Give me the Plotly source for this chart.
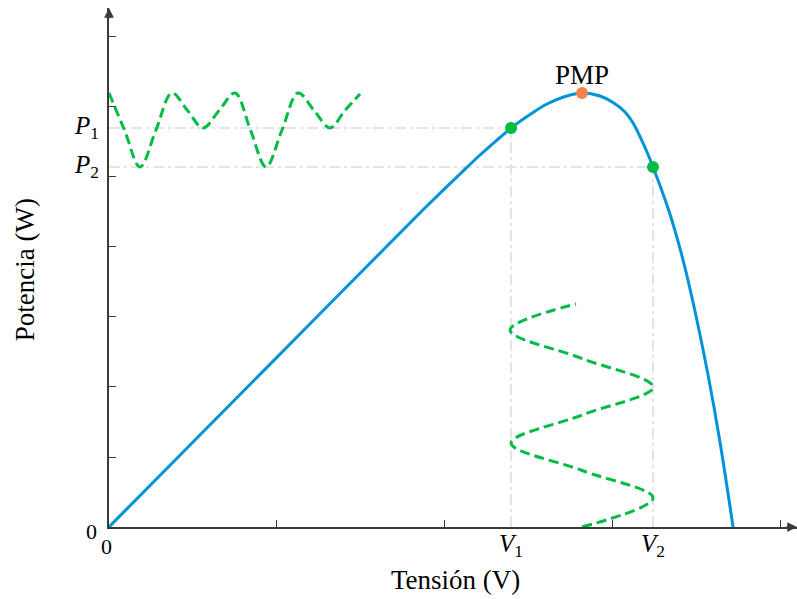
import plotly.graph_objects as go

# P-V characteristic of the panel (voltage, power)
curve_v = [0.000, 0.542, 1.138, 1.734, 1.931, 2.092, 2.211, 2.330, 2.396, 2.509, 2.610,
           2.718, 2.819, 2.926, 3.004, 3.075, 3.123, 3.206, 3.242, 3.337, 3.421, 3.492,
           3.570, 3.641, 3.719]
curve_p = [0.000, 1.314, 2.757, 4.200, 4.671, 5.043, 5.314, 5.564, 5.700, 5.893, 6.043,
           6.150, 6.200, 6.157, 6.064, 5.929, 5.771, 5.357, 5.143, 4.514, 3.814, 3.086,
           2.171, 1.214, 0.000]

# operating points
V1, P1 = 2.396, 5.700
V2, P2 = 3.242, 5.143
V_MPP, P_MPP = 2.819, 6.200

# voltage perturbation around the MPP (time runs upward)
osc_v = [2.819, 3.242, 2.819, 2.396, 2.819, 3.242, 2.819, 2.390, 2.783]
osc_t = [0.000, 0.414, 0.807, 1.200, 1.600, 2.000, 2.407, 2.814, 3.186]

# resulting power oscillation (time runs to the right)
pw_t = [0.000, 0.092, 0.185, 0.280, 0.375, 0.468, 0.560, 0.656, 0.751,
        0.843, 0.936, 1.031, 1.126, 1.222, 1.317, 1.406, 1.496]
pw_p = [6.200, 5.671, 5.143, 5.671, 6.200, 5.950, 5.700, 5.950, 6.200,
        5.671, 5.143, 5.671, 6.200, 5.950, 5.700, 5.950, 6.186]

x_ticks = [1, 2, 3, 4]
y_ticks = [1, 2, 3, 4, 5, 6, 7]

BLUE = "#0093d8"
GREEN = "#00bb44"
ORANGE = "#f2834b"
GUIDE = "#e4e4e4"
AXIS = "#3a3a3a"
FONT = "Liberation Serif"

X_MAX, Y_MAX = 4.100, 7.414

fig = go.Figure()

guide = dict(color=GUIDE, width=2, dash="11px,4px,3px,4px")
fig.add_trace(go.Scatter(x=[0, V1], y=[P1, P1], mode="lines", line=guide))
fig.add_trace(go.Scatter(x=[0, V2], y=[P2, P2], mode="lines", line=guide))
fig.add_trace(go.Scatter(x=[V1, V1], y=[0, P1], mode="lines", line=guide))
fig.add_trace(go.Scatter(x=[V2, V2], y=[0, P2], mode="lines", line=guide))

wave = dict(color=GREEN, width=3, dash="10px,5px", shape="spline", smoothing=1)
fig.add_trace(go.Scatter(x=pw_t, y=pw_p, mode="lines", line=wave))
fig.add_trace(go.Scatter(x=osc_v, y=osc_t, mode="lines", line=wave))

fig.add_trace(go.Scatter(x=curve_v, y=curve_p, mode="lines",
                         line=dict(color=BLUE, width=3, shape="spline", smoothing=1)))

fig.add_trace(go.Scatter(x=[V1, V2], y=[P1, P2], mode="markers",
                         marker=dict(color=GREEN, size=12)))
fig.add_trace(go.Scatter(x=[V_MPP], y=[P_MPP], mode="markers",
                         marker=dict(color=ORANGE, size=12)))

ann = []
# axis arrowheads
ann.append(dict(x=X_MAX, y=0, xref="x", yref="y", ax=-12, ay=0, text="",
                showarrow=True, arrowhead=2, arrowsize=1.3, arrowwidth=1.5,
                arrowcolor=AXIS, standoff=0))
ann.append(dict(x=0, y=Y_MAX, xref="x", yref="y", ax=0, ay=12, text="",
                showarrow=True, arrowhead=2, arrowsize=1.3, arrowwidth=1.5,
                arrowcolor=AXIS, standoff=0))

lab = dict(family=FONT, size=25, color="black")
mid = dict(showarrow=False, xanchor="center", yanchor="middle")
ann.append(dict(x=0, y=P1, xref="paper", yref="y", text="<i>P</i><sub>1</sub>",
                showarrow=False, xanchor="right", yanchor="middle", xshift=-8, font=lab))
ann.append(dict(x=0, y=P2, xref="paper", yref="y", text="<i>P</i><sub>2</sub>",
                showarrow=False, xanchor="right", yanchor="middle", xshift=-8, font=lab))
ann.append(dict(x=V1, y=-0.036, xref="x", yref="paper", text="<i>V</i><sub>1</sub>",
                font=lab, **mid))
ann.append(dict(x=V2, y=-0.036, xref="x", yref="paper", text="<i>V</i><sub>2</sub>",
                font=lab, **mid))
ann.append(dict(x=V_MPP, y=P_MPP, xref="x", yref="y", text="PMP",
                showarrow=False, xanchor="center", yanchor="bottom", yshift=1,
                font=dict(family=FONT, size=27, color="black")))
zero = dict(family=FONT, size=22, color="black")
ann.append(dict(x=-0.025, y=-0.008, xref="paper", yref="paper", text="0",
                font=zero, **mid))
ann.append(dict(x=-0.004, y=-0.038, xref="paper", yref="paper", text="0",
                font=zero, **mid))
title = dict(family=FONT, size=27, color="black")
ann.append(dict(x=0.503, y=-0.102, xref="paper", yref="paper", text="Tensión (V)",
                font=title, **mid))
ann.append(dict(x=-0.122, y=0.495, xref="paper", yref="paper", text="Potencia (W)",
                textangle=-90, font=title, **mid))

fig.update_layout(
    width=797, height=599,
    margin=dict(l=109, r=0, t=8, b=72),
    paper_bgcolor="white", plot_bgcolor="white",
    showlegend=False,
    font=dict(family=FONT),
    annotations=ann,
    xaxis=dict(range=[0, X_MAX], showgrid=False, zeroline=False,
               showline=True, linecolor=AXIS, linewidth=1.5,
               tickvals=x_ticks, ticks="inside", ticklen=7, tickwidth=1.2,
               tickcolor=AXIS, showticklabels=False),
    yaxis=dict(range=[0, Y_MAX], showgrid=False, zeroline=False,
               showline=True, linecolor=AXIS, linewidth=1.5,
               tickvals=y_ticks, ticks="inside", ticklen=7, tickwidth=1.2,
               tickcolor=AXIS, showticklabels=False),
)

fig.write_html("out.html")
